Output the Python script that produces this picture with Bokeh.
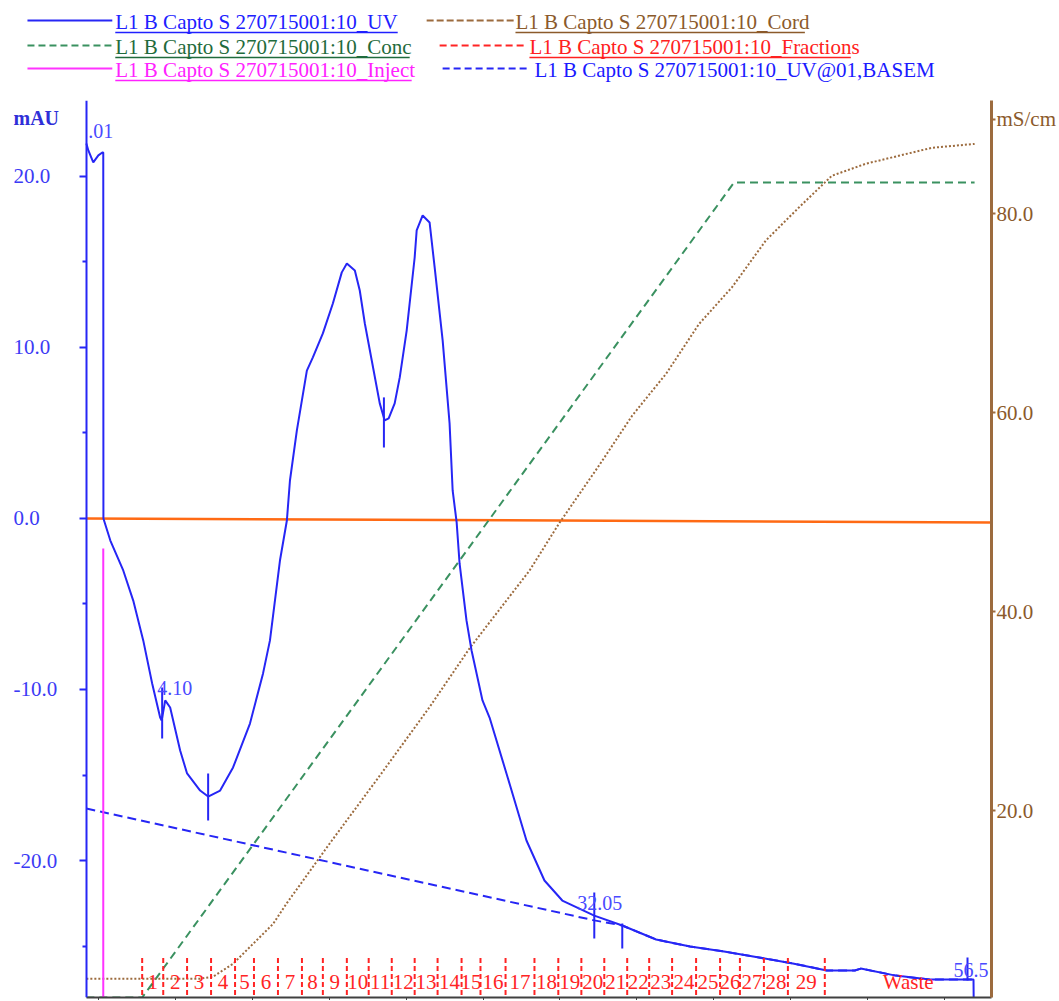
from bokeh.plotting import figure
from bokeh.models import (Range1d, LinearAxis, FixedTicker, NumeralTickFormatter,
                          CustomJSTickFormatter)
from bokeh.layouts import column
from bokeh.core.properties import value
from bokeh.embed import file_html
from bokeh.resources import INLINE
import numpy as np

# ---------------- data (volume in mL) ----------------
uv_ml = [-0.80, -0.67, -0.35, -0.02, 0.24, 0.30, 0.31, 0.76, 1.60, 2.25, 2.90, 3.48, 4.00, 4.10,
         4.33, 4.65, 5.30, 5.75, 6.60, 7.12, 7.90, 8.74, 9.84, 10.69, 11.14, 11.79, 12.24, 12.44,
         12.89, 13.54, 13.93, 14.58, 15.23, 15.81, 16.14, 16.66, 16.98, 17.31, 17.76, 18.28, 18.60,
         18.86, 19.25, 19.58, 20.03, 20.55, 20.68, 21.07, 21.52, 21.85, 22.37, 22.82, 23.02, 23.28,
         23.47, 23.92, 24.25, 24.96, 25.42, 26.52, 27.82, 28.99, 30.15, 31.26, 32.23, 34.05, 36.25,
         38.46, 40.67, 42.94, 45.14, 47.35, 49.17, 49.56, 51.83, 54.03, 56.24, 56.89, 56.90]
uv_mau = [21.93, 21.52, 20.82, 21.23, 21.40, 21.40, 0.00, -1.29, -3.04, -4.80, -7.13, -9.65, -11.64,
          -11.81, -10.64, -11.05, -13.57, -14.91, -15.91, -16.26, -15.91, -14.56, -11.99, -9.06,
          -7.13, -2.46, -0.12, 2.22, 5.15, 8.65, 9.42, 10.82, 12.57, 14.39, 14.91, 14.50, 13.33,
          11.40, 9.24, 6.73, 5.73, 5.85, 6.73, 8.25, 10.99, 15.26, 16.84, 17.72, 17.31, 14.68,
          10.41, 5.56, 1.64, -0.23, -2.63, -5.96, -7.72, -10.64, -11.64, -14.91, -18.83, -21.17,
          -22.34, -22.81, -23.22, -23.80, -24.62, -25.03, -25.32, -25.67, -26.02, -26.43, -26.43,
          -26.32, -26.73, -26.96, -26.96, -26.96, -28.01]

basem_ml = [-0.80, 32.23, 34.05, 36.25, 38.46, 40.67, 42.94, 45.14, 47.35, 49.17, 49.56, 51.83,
            54.03, 56.24, 56.89]
basem_mau = [-16.96, -23.50, -23.80, -24.62, -25.03, -25.32, -25.67, -26.02, -26.43, -26.43,
             -26.32, -26.73, -26.96, -26.96, -26.96]

cond_ml = [-0.80, 6.60, 7.44, 8.74, 10.04, 11.34, 12.24, 15.03, 18.28, 21.52, 24.12, 28.01, 29.96,
           32.55, 34.70, 36.90, 39.04, 41.19, 43.39, 45.53, 47.68, 49.88, 52.02, 54.16, 56.96]
cond_ms = [3.1, 3.1, 3.3, 4.6, 6.6, 8.6, 10.7, 16.7, 23.5, 30.4, 36.3, 44.1, 48.9, 54.7, 59.7,
           63.9, 68.9, 72.6, 77.3, 80.6, 83.8, 85.0, 85.8, 86.6, 87.0]

conc_ml = [-0.80, 2.83, 41.32, 56.96]
conc_pct = [0, 0, 100, 100]

level_ml = [-0.80, 58.06]
level_mau = [0.0, -0.23]

inject_ml = [0.30]
inject_top = [-1.75]

frac_bounds = [2.83, 4.20, 5.75, 7.31, 8.87, 10.10, 11.66, 13.22, 14.58, 16.14, 17.56, 19.06, 20.55,
               22.04, 23.60, 24.83, 26.46, 28.34, 29.89, 31.39, 32.88, 34.37, 35.80, 37.29, 38.85,
               40.41, 41.70, 43.26, 44.82, 47.22, 58.06]
frac_labels = [str(i) for i in range(1, 30)] + ["Waste"]

peak_ml = [4.13, 7.12, 18.55, 32.23, 34.05, 56.50]
peak_top = [-9.88, -14.91, 7.08, -21.87, -23.68, -25.67]
peak_bot = [-12.87, -17.66, 4.15, -24.56, -25.15, -27.02]
peak_text = [".01", "4.10", "32.05", "56.5"]
peak_text_ml = [-0.67, 3.81, 31.13, 55.59]
peak_text_mau = [22.63, -9.94, -22.51, -26.43]

left_ticks = [20, 10, 0, -10, -20]
left_minor = [15, 5, -5, -15, -25]
right_ticks = [20, 40, 60, 80]
right_unit_pos = 89.5         # where the "mS/cm" unit sits on the right scale

legend_texts = ["L1 B Capto S 270715001:10_UV", "L1 B Capto S 270715001:10_Cord",
                "L1 B Capto S 270715001:10_Conc", "L1 B Capto S 270715001:10_Fractions",
                "L1 B Capto S 270715001:10_Inject", "L1 B Capto S 270715001:10_UV@01,BASEM"]

# ---------------- styles / layout ----------------
FONT = "Liberation Serif"
C_UV = "#2626f5"
C_COND = "#9c6b3e"
C_CONC = "#3a9160"
C_FRAC = "#ff2424"
C_INJ = "#ff33ff"
C_ORANGE = "#ff6a14"

W, H_LEG, H_MAIN = 1059, 100, 900
B_LEFT, B_RIGHT = 10, 66          # frame borders (px) shared by both strips
X0, X1 = -0.80, 58.06             # run volume shown
PX_PER_ML = (W - B_RIGHT - 86) / (X1 - X0)   # left axis sits at x = 86 px
XSTART = X0 - (86 - B_LEFT) / PX_PER_ML
XLBL = X0 - (86 - 13) / PX_PER_ML            # left tick label column
YB = -28.01                                   # bottom of the mAU scale

# ---------------- legend strip ----------------
lg = figure(width=W, height=H_LEG, x_range=Range1d(B_LEFT, W - B_RIGHT), y_range=Range1d(H_LEG, 0),
            output_backend="svg", toolbar_location=None,
            min_border_left=B_LEFT, min_border_right=B_RIGHT, min_border_top=0, min_border_bottom=0,
            x_axis_location=None, y_axis_location=None)
lg.outline_line_color = None
lg.xgrid.visible = False
lg.ygrid.visible = False

leg_layout = [  # line x0, line x1, text x, underline end, row y, colour, text colour, dash
    (27, 112, 115, 398, 20, C_UV, "#2020ff", "solid"),
    (427, 515, 516, 806, 20, C_COND, "#8b5a2b", "7 3"),
    (27, 112, 115, 410, 45, C_CONC, "#1f6b3c", "7 4"),
    (440, 527, 530, 852, 45, C_FRAC, "#ff2020", "7 4"),
    (27, 112, 115, 412, 68, C_INJ, "#ff22ff", "solid"),
    (443, 530, 535, None, 68, C_UV, "#1a1aff", "7 4"),
]
for (lx0, lx1, tx, ux1, ry, lc, tc, dash), txt in zip(leg_layout, legend_texts):
    lg.segment(x0=[lx0], y0=[ry], x1=[lx1], y1=[ry], line_color=lc, line_width=2, line_dash=dash)
    lg.text(x=[tx], y=[ry + 1], text=[txt], text_font=value(FONT), text_font_size="21px",
            text_color=tc, text_baseline="middle", text_align="left")
    if ux1 is not None:
        lg.segment(x0=[tx], y0=[ry + 12], x1=[ux1], y1=[ry + 12], line_color=tc, line_width=1.5)

# ---------------- main chart ----------------
p = figure(width=W, height=H_MAIN, x_range=Range1d(XSTART, X1), y_range=Range1d(YB, 24.44),
           output_backend="svg", toolbar_location=None,
           min_border_left=B_LEFT, min_border_right=B_RIGHT, min_border_top=0, min_border_bottom=0)
p.outline_line_color = None
p.grid.visible = False

p.extra_y_ranges = {"cond": Range1d(1.21, 91.36), "conc": Range1d(0, 110.06)}

# x axis (its labels lie below the visible area)
xa = p.xaxis[0]
xa.bounds = (X0, X1)
xa.ticker = FixedTicker(ticks=list(range(0, 60, 5)))
xa.formatter = CustomJSTickFormatter(code="return ''")
xa.major_label_text_font_size = "0px"
xa.major_label_standoff = 0
xa.major_tick_out = 3
xa.major_tick_in = 0
xa.minor_tick_out = 0
xa.minor_tick_in = 0
xa.axis_line_color = "#404040"
xa.axis_line_width = 2
xa.major_tick_line_color = "#404040"

# left axis (mAU) drawn at the start of the run
ya = p.yaxis[0]
ya.fixed_location = X0
ya.ticker = FixedTicker(ticks=left_ticks, minor_ticks=left_minor)
ya.formatter = CustomJSTickFormatter(code="return ''")
ya.major_label_text_font_size = "0px"
ya.major_label_standoff = 0
ya.axis_line_color = C_UV
ya.axis_line_width = 2
ya.major_tick_line_color = C_UV
ya.minor_tick_line_color = C_UV
ya.major_tick_line_width = 2
ya.minor_tick_line_width = 2
ya.major_tick_out = 7
ya.major_tick_in = 0
ya.minor_tick_out = 4
ya.minor_tick_in = 0

# left tick labels, left aligned as in the source
p.text(x=[XLBL] * len(left_ticks), y=left_ticks, text=[f"{v:.1f}" for v in left_ticks],
       text_font=value(FONT), text_font_size="21px", text_color="#3b3bf5",
       text_align="left", text_baseline="middle")
p.text(x=[XLBL], y=[23.39], text=["mAU"], text_font=value(FONT), text_font_size="20px",
       text_font_style="bold", text_color="#2f2fd8", text_align="left", text_baseline="middle")

# right axis (conductivity)
ra = LinearAxis(y_range_name="cond", ticker=FixedTicker(ticks=right_ticks + [right_unit_pos]),
                formatter=NumeralTickFormatter(format="0.0"))
ra.major_label_overrides = {right_unit_pos: "mS/cm"}
ra.axis_line_color = C_COND
ra.axis_line_width = 3
ra.major_tick_line_color = C_COND
ra.major_tick_line_width = 2
ra.major_tick_out = 4
ra.major_tick_in = 0
ra.minor_tick_out = 0
ra.minor_tick_in = 0
ra.major_label_standoff = 1
ra.major_label_text_font = FONT
ra.major_label_text_font_size = "21px"
ra.major_label_text_color = "#8b5a2b"
p.add_layout(ra, "right")

# curves
p.line(level_ml, level_mau, line_color=C_ORANGE, line_width=2.5)
p.line(conc_ml, conc_pct, y_range_name="conc", line_color=C_CONC, line_width=2, line_dash="8 5")
p.line(cond_ml, cond_ms, y_range_name="cond", line_color=C_COND, line_width=2, line_dash="2 2")
p.line(basem_ml, basem_mau, line_color=C_UV, line_width=2, line_dash="9 5")
p.line(uv_ml, uv_mau, line_color=C_UV, line_width=2)

# injection mark
p.segment(x0=inject_ml, y0=[YB], x1=inject_ml, y1=inject_top, line_color=C_INJ, line_width=2)

# fractions
fb = np.array(frac_bounds)
n_marks = len(fb) - 1
p.segment(x0=fb[:-1], y0=[-25.70] * n_marks, x1=fb[:-1], y1=[YB] * n_marks,
          line_color=C_FRAC, line_width=2, line_dash="5 3")
mids = (fb[:-1] + fb[1:]) / 2
p.text(x=mids, y=[-27.10] * len(mids), text=frac_labels, text_font=value(FONT),
       text_font_size="21px", text_color=C_FRAC, text_align="center", text_baseline="middle")

# peak marks and labels
p.segment(x0=peak_ml, y0=peak_top, x1=peak_ml, y1=peak_bot, line_color=C_UV, line_width=2)
p.text(x=peak_text_ml, y=peak_text_mau, text=peak_text, text_font=value(FONT),
       text_font_size="20px", text_color="#4a4aff", text_align="left", text_baseline="middle")

layout = column(lg, p)
open("out.html", "w").write(file_html(layout, INLINE))
